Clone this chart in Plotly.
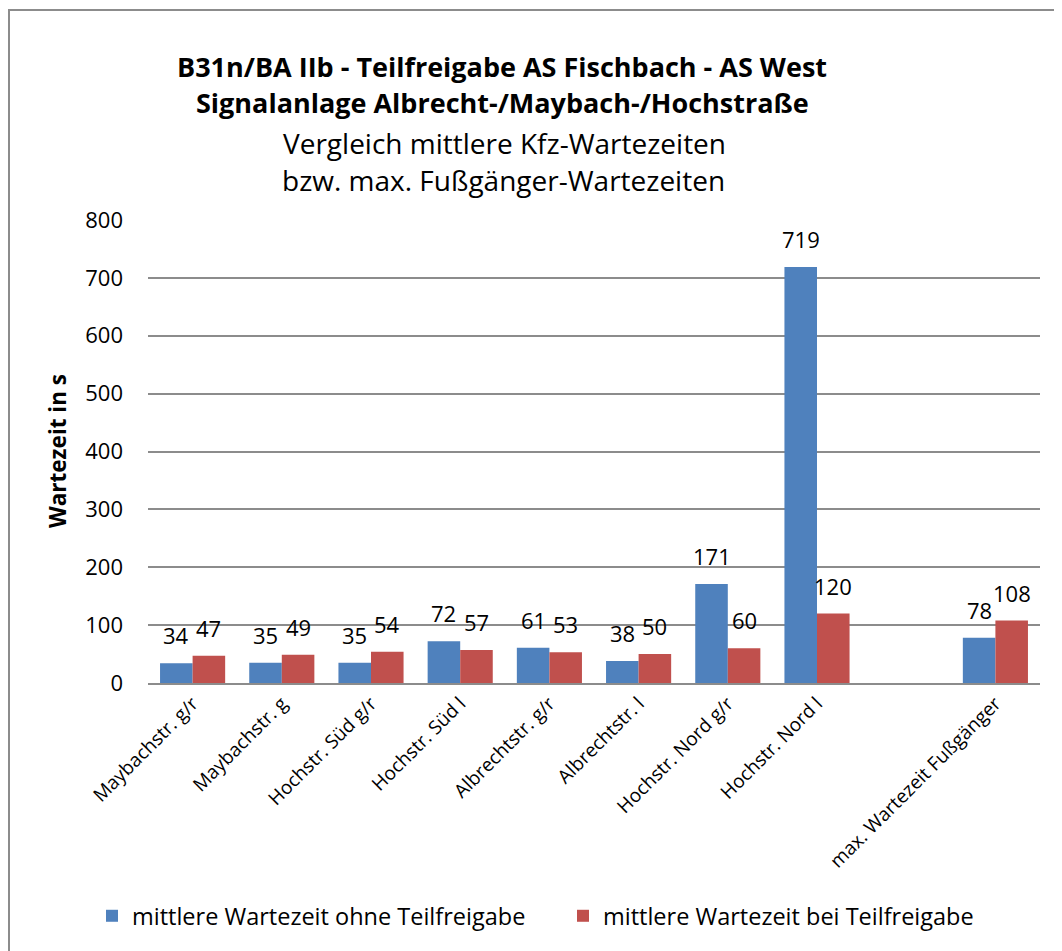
import plotly.graph_objects as go

categories = ["Maybachstr. g/r", "Maybachstr. g", "Hochstr. Süd g/r", "Hochstr. Süd l",
              "Albrechtstr. g/r", "Albrechtstr. l", "Hochstr. Nord g/r", "Hochstr. Nord l",
              " ", "max. Wartezeit Fußgänger"]
ohne = [34, 35, 35, 72, 61, 38, 171, 719, None, 78]
bei = [47, 49, 54, 57, 53, 50, 60, 120, None, 108]
series_names = ["mittlere Wartezeit ohne Teilfreigabe", "mittlere Wartezeit bei Teilfreigabe"]
y_ticks = [0, 100, 200, 300, 400, 500, 600, 700, 800]

FONT = "Open Sans"
OFF = 8  # page offset of the rendered figure
W, H = 1062, 951
# target plot area in screenshot pixels: x 148..1040, y 220..683
L = 148 - OFF
T = 220 - OFF
R = W - (1040 - OFF)
B = H - (683 - OFF)
pw, ph = W - L - R, H - T - B
BARGAP = 0.27

def px_x(x):
    return (x - OFF - L) / pw

def px_y(y):
    return (H - B - (y - OFF)) / ph

fig = go.Figure()
fig.add_trace(go.Bar(x=categories, y=ohne, name=series_names[0],
                     marker=dict(color="#4F81BD", line=dict(width=0))))
fig.add_trace(go.Bar(x=categories, y=bei, name=series_names[1],
                     marker=dict(color="#C0504D", line=dict(width=0))))

# data labels above each bar
bar_w = pw / len(categories) * (1 - BARGAP) / 2
for vals, sh in ((ohne, -bar_w / 2), (bei, bar_w / 2)):
    for c, v in zip(categories, vals):
        if v is None:
            continue
        fig.add_annotation(x=c, y=v, xref="x", yref="y", text=str(v), showarrow=False,
                           xshift=sh, yshift=28, xanchor="center", yanchor="middle",
                           font=dict(family=FONT, size=22, color="#000"))

fig.update_layout(
    width=W, height=H,
    margin=dict(l=L, r=R, t=T, b=B, autoexpand=False),
    paper_bgcolor="white", plot_bgcolor="white",
    barmode="group", bargap=BARGAP, bargroupgap=0,
    font=dict(family=FONT, color="#000"),
    showlegend=True,
    legend=dict(orientation="h", x=px_x(92), xanchor="left", y=px_y(916), yanchor="middle",
                font=dict(family=FONT, size=23.5), itemwidth=30, traceorder="normal",
                entrywidth=426, entrywidthmode="pixels",
                bgcolor="rgba(0,0,0,0)"),
    xaxis=dict(type="category", categoryorder="array", categoryarray=categories,
               tickangle=-45, tickfont=dict(family=FONT, size=19),
               showline=True, linecolor="#8c8c8c", linewidth=2, ticks="", showgrid=False),
    yaxis=dict(range=[0, 800], tickvals=y_ticks, ticktext=[str(v) for v in y_ticks],
               showgrid=True, gridcolor="#8c8c8c", gridwidth=1.5,
               zeroline=False, showline=False,
               tickfont=dict(family=FONT, size=22), ticklabelstandoff=24),
)

# Title lines
fig.add_annotation(x=px_x(502), y=px_y(66), xref="paper", yref="paper", showarrow=False,
                   text="<b>B31n/BA IIb - Teilfreigabe AS Fischbach - AS West</b>",
                   font=dict(family=FONT, size=27), xanchor="center", yanchor="middle")
fig.add_annotation(x=px_x(502), y=px_y(103), xref="paper", yref="paper", showarrow=False,
                   text="<b>Signalanlage Albrecht-/Maybach-/Hochstraße</b>",
                   font=dict(family=FONT, size=27), xanchor="center", yanchor="middle")
fig.add_annotation(x=px_x(504), y=px_y(143), xref="paper", yref="paper", showarrow=False,
                   text="Vergleich mittlere Kfz-Wartezeiten",
                   font=dict(family=FONT, size=28), xanchor="center", yanchor="middle")
fig.add_annotation(x=px_x(503), y=px_y(180), xref="paper", yref="paper", showarrow=False,
                   text="bzw. max. Fußgänger-Wartezeiten",
                   font=dict(family=FONT, size=28), xanchor="center", yanchor="middle")
# Y axis title
fig.add_annotation(x=px_x(57), y=px_y(451), xref="paper", yref="paper", showarrow=False,
                   text="<b>Wartezeit in s</b>", textangle=-90,
                   font=dict(family=FONT, size=22.5), xanchor="center", yanchor="middle")

# Chart border
fig.add_shape(type="rect", xref="paper", yref="paper",
              x0=px_x(9), x1=px_x(1080), y0=px_y(975), y1=px_y(10),
              line=dict(color="#8c8c8c", width=2), fillcolor="rgba(0,0,0,0)", layer="below")

fig.write_html("out.html")
